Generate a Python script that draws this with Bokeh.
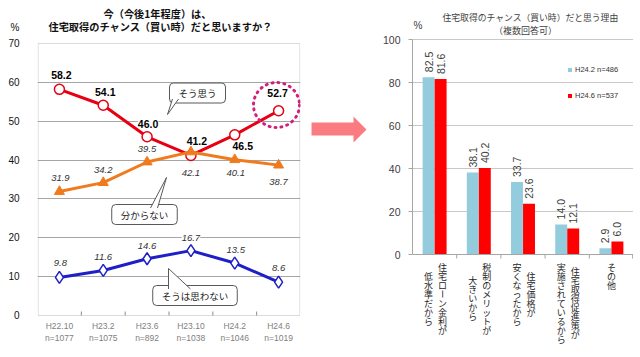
import math
from bokeh.plotting import figure
from bokeh.models import (FactorRange, Range1d, ColumnDataSource, LabelSet, Label, Legend,
                          LegendItem, FixedTicker, BoxAnnotation, Span)
from bokeh.layouts import row
from bokeh.embed import file_html
from bokeh.resources import INLINE
from bokeh.transform import dodge
from bokeh.core.properties import value

# ---------------- data: left chart ----------------
periods = ["H22.10", "H23.2", "H23.6", "H23.10", "H24.2", "H24.6"]
sample_n = ["n=1077", "n=1075", "n=892", "n=1038", "n=1046", "n=1019"]
yes_vals = [58.2, 54.1, 46.0, 41.2, 46.5, 52.7]        # そう思う
unknown_vals = [31.9, 34.2, 39.5, 42.1, 40.1, 38.7]    # 分からない
no_vals = [9.8, 11.6, 14.6, 16.7, 13.5, 8.6]           # そうは思わない
series_names = ["そう思う", "分からない", "そうは思わない"]
left_title = ["今（今後1年程度）は、", "住宅取得のチャンス（買い時）だと思いますか？"]
left_yticks = [0, 10, 20, 30, 40, 50, 60, 70]
unit_label = "%"

# ---------------- data: right chart ----------------
reasons = [["住宅ローン金利が", "低水準だから"],
           ["税制のメリットが", "大きいから"],
           ["住宅価格が", "安くなったから"],
           ["住宅取得促進策が", "実施されているから"],
           ["その他"]]
h242_vals = [82.5, 38.1, 33.7, 14.0, 2.9]
h246_vals = [81.6, 40.2, 23.6, 12.1, 6.0]
legend_labels = ["H24.2 n=486", "H24.6 n=537"]
right_title = ["住宅取得のチャンス（買い時）だと思う理由", "（複数回答可）"]
right_yticks = [0, 20, 40, 60, 80, 100]

# ---------------- styles ----------------
JP = "Noto Sans CJK JP"
LAT = "Liberation Sans"
RED = "#E60012"
ORANGE = "#EF7B1E"
BLUE = "#1F1FC8"
LBLUE = "#93CDDD"
BRED = "#FF0000"
PINK = "#FA7C80"
MAG = "#D21F7C"
AXIS_GRAY = "#A6A6A6"
H = 355

# ---------------- layout geometry (pixels) ----------------
L_W, L_FL, L_FR = 305, 37, 300          # left canvas width, frame left/right
L_Y0, L_YTOP = 315, 43                  # pixel rows of 0 and of the top tick
A_W = 67                                # arrow canvas width
R_W, R_FL, R_FR = 261, 40, 261          # right canvas width, frame left/right (canvas px)
R_Y0, R_YTOP = 254, 39
R_X0 = L_W + A_W                        # right canvas left on the page

l_ppy = (L_Y0 - L_YTOP) / left_yticks[-1]
l_ppx = (L_FR - L_FL) / len(periods)
r_ppy = (R_Y0 - R_YTOP) / right_yticks[-1]
r_ppx = (R_FR - R_FL) / len(reasons)


def lx(px):
    return (px - L_FL) / l_ppx


def ly(py):
    return (L_Y0 - py) / l_ppy


def rx(px):
    return (px - R_X0 - R_FL) / r_ppx


def ry(py):
    return (R_Y0 - py) / r_ppy


# label offsets (pixels) -- layout only
yes_off = [(2, 14), (2, 13), (1, 13), (6, 14), (8, -11), (-1, 18)]
unk_off = [(1, 14), (0, 13), (0, 13), (0, -21), (1, -13), (0, -17)]
no_off = [(1, 14), (0, 13), (0, 13), (0, 13), (1, 13), (0, 14)]

# ================= left figure =================
p1 = figure(width=L_W, height=H, x_range=FactorRange(*periods),
            y_range=Range1d(ly(H), ly(0)),
            output_backend="svg", toolbar_location=None,
            min_border_left=L_FL, min_border_right=L_W - L_FR, min_border_top=0,
            min_border_bottom=0)
p1.outline_line_color = None
p1.xaxis.visible = False
p1.xgrid.grid_line_color = None
p1.ygrid.grid_line_color = "#A6A6A6"
p1.ygrid.ticker = FixedTicker(ticks=left_yticks[1:-1])
unit_tick = 74
p1.yaxis.ticker = FixedTicker(ticks=left_yticks + [unit_tick])
p1.yaxis.major_label_overrides = {unit_tick: unit_label}
p1.yaxis.axis_line_color = None
p1.yaxis.major_tick_line_color = None
p1.yaxis.minor_tick_line_color = None
p1.yaxis.major_label_standoff = 12
p1.yaxis.major_label_text_font = LAT
p1.yaxis.major_label_text_font_size = "10px"
p1.yaxis.major_label_text_color = "#111111"

# plot-area border
p1.add_layout(BoxAnnotation(left=0.015, right=len(periods) - 0.015, bottom=0,
                            top=left_yticks[-1], fill_alpha=0, line_color="#8C8C8C",
                            line_width=1, level="underlay"))
# category boundary ticks on the bottom edge
l_bounds = list(range(1, len(periods)))
p1.segment(x0=l_bounds, y0=[0] * len(l_bounds), x1=l_bounds, y1=[4 / l_ppy] * len(l_bounds),
           line_color="#8C8C8C", line_width=1)

src = ColumnDataSource(dict(
    period=periods, n=sample_n, yes=yes_vals, unk=unknown_vals, no=no_vals,
    yes_t=[f"{v:.1f}" for v in yes_vals], unk_t=[f"{v:.1f}" for v in unknown_vals],
    no_t=[f"{v:.1f}" for v in no_vals],
    yes_xo=[o[0] for o in yes_off], yes_yo=[o[1] for o in yes_off],
    unk_xo=[o[0] for o in unk_off], unk_yo=[o[1] for o in unk_off],
    no_xo=[o[0] for o in no_off], no_yo=[o[1] for o in no_off],
))

# category labels under the plot area
for col, yo in [("period", -10), ("n", -22)]:
    p1.add_layout(LabelSet(x="period", y=0, text=col, source=src, y_offset=yo,
                           text_align="center", text_baseline="middle",
                           text_font=value(LAT), text_font_size="8.5px",
                           text_color="#808080"))

p1.line("period", "yes", source=src, line_color=RED, line_width=3)
p1.scatter("period", "yes", source=src, marker="circle", size=10, fill_color="white",
           line_color=RED, line_width=1.5)
p1.line("period", "unk", source=src, line_color=ORANGE, line_width=3)
p1.scatter("period", "unk", source=src, marker="triangle", size=10, fill_color=ORANGE,
           line_color=ORANGE)
p1.line("period", "no", source=src, line_color=BLUE, line_width=3)
p1.scatter("period", "no", source=src, marker="diamond", size=12, fill_color="white",
           line_color=BLUE, line_width=1.5)

for col, style, size, color in [("yes", "bold", "10.5px", "#000000"),
                                ("unk", "italic", "9.5px", "#333333"),
                                ("no", "italic", "9.5px", "#333333")]:
    p1.add_layout(LabelSet(x="period", y=col, text=col + "_t", source=src,
                           x_offset=col + "_xo", y_offset=col + "_yo",
                           text_align="center", text_baseline="middle",
                           text_font=value(LAT), text_font_size=size,
                           text_font_style=style, text_color=color,
                           background_fill_color="white"))

# callouts: text, box centre (px), tail base points (px), tail tip (px)
callouts = [
    (series_names[0], (197, 92.5), [(172, 98.5), (178, 98.5)], (167, 114)),
    (series_names[1], (144, 214), [(150, 207.5), (157, 207.5)], (166, 177)),
    (series_names[2], (194.5, 295), [(168, 288.5), (190, 288.5)], (168, 268)),
]
for txt, (cx, cy), base, tip in callouts:
    p1.add_layout(Label(x=lx(cx), y=ly(cy), text=txt, text_align="center",
                        text_baseline="middle", text_font=JP, text_font_size="9.5px",
                        text_color="#222222", background_fill_color="white",
                        border_line_color="#595959", border_line_width=1, border_radius=4,
                        padding=(9, 3)))
    bx = [lx(b[0]) for b in base]
    by = [ly(b[1]) for b in base]
    tx, ty = lx(tip[0]), ly(tip[1])
    p1.patch([bx[0], tx, bx[1]], [by[0], ty, by[1]], fill_color="white", line_color=None,
             level="overlay")
    p1.multi_line([[bx[0], tx], [tx, bx[1]]], [[by[0], ty], [ty, by[1]]],
                  line_color="#595959", line_width=1, level="overlay")

# dotted highlight circle around the latest value
p1.ellipse(x=lx(276), y=ly(104.5), width=46, height=45, width_units="screen",
           height_units="screen", fill_color=None, line_color=MAG, line_width=3,
           line_dash="1 5", line_cap="round")

# title
p1.add_layout(Label(x=lx(157), y=ly(13), text=left_title[0], text_align="center",
                    text_baseline="middle", text_font=JP, text_font_size="10.2px",
                    text_font_style="bold", text_color="#111111"))
p1.add_layout(Label(x=lx(160), y=ly(25.5), text=left_title[1], text_align="center",
                    text_baseline="middle", text_font=JP, text_font_size="10.2px",
                    text_font_style="bold", text_color="#111111"))

# ================= arrow figure =================
pa = figure(width=A_W, height=H, x_range=Range1d(0, A_W), y_range=Range1d(H, 0),
            output_backend="svg", toolbar_location=None, x_axis_type=None,
            y_axis_type=None, min_border=0)
pa.outline_line_color = None
pa.grid.grid_line_color = None
ax0 = L_W
pa.patch([311 - ax0, 353 - ax0, 353 - ax0, 366 - ax0, 353 - ax0, 353 - ax0, 311 - ax0],
         [122, 122, 116, 129, 142, 135, 135], fill_color=PINK, line_color=None)

# ================= right figure =================
cats = ["".join(r) for r in reasons]
p2 = figure(width=R_W, height=H, x_range=FactorRange(*cats),
            y_range=Range1d(ry(H), ry(0)),
            output_backend="svg", toolbar_location=None,
            min_border_left=R_FL, min_border_right=R_W - R_FR, min_border_top=0,
            min_border_bottom=0)
p2.outline_line_color = None
p2.xaxis.visible = False
p2.xgrid.grid_line_color = None
p2.ygrid.grid_line_color = "#C8C8C8"
p2.ygrid.ticker = FixedTicker(ticks=right_yticks[1:])
p2.yaxis.ticker = FixedTicker(ticks=right_yticks)
p2.yaxis.bounds = (right_yticks[0], right_yticks[-1])
p2.yaxis.axis_line_color = AXIS_GRAY
p2.yaxis.major_tick_line_color = AXIS_GRAY
p2.yaxis.major_tick_out = 4
p2.yaxis.major_tick_in = 0
p2.yaxis.minor_tick_line_color = None
p2.yaxis.major_label_standoff = 8
p2.yaxis.major_label_text_font = LAT
p2.yaxis.major_label_text_font_size = "10.5px"
p2.yaxis.major_label_text_color = "#404040"
p2.add_layout(Span(location=0, dimension="width", line_color=AXIS_GRAY, line_width=1))
r_bounds = [b for b in range(1, len(reasons))] + [len(reasons) - 0.02]
p2.segment(x0=r_bounds, y0=[0] * len(r_bounds), x1=r_bounds,
           y1=[-4 / r_ppy] * len(r_bounds), line_color=AXIS_GRAY, line_width=1)

src2 = ColumnDataSource(dict(cat=cats, a=h242_vals, b=h246_vals,
                             a_t=[f"{v:.1f}" for v in h242_vals],
                             b_t=[f"{v:.1f}" for v in h246_vals]))
r1 = p2.vbar(x=dodge("cat", -0.136, range=p2.x_range), top="a", width=0.27, source=src2,
             fill_color=LBLUE, line_color=None)
r2 = p2.vbar(x=dodge("cat", 0.136, range=p2.x_range), top="b", width=0.27, source=src2,
             fill_color=BRED, line_color=None)
for key, off in [("a", -0.136), ("b", 0.136)]:
    p2.add_layout(LabelSet(x=dodge("cat", off, range=p2.x_range), y=key, text=key + "_t",
                           source=src2, angle=math.pi / 2, text_align="left",
                           text_baseline="middle", y_offset=5, text_font=value(LAT),
                           text_font_size="10.5px", text_color="#404040"))

# vertical (tategaki) category labels, right column first; long-vowel marks turned upright
CH_TOP, CH_STEP = 8, 9
upright = dict(cat=[], ch=[], xo=[], yo=[])
turned = dict(cat=[], ch=[], xo=[], yo=[])
for cat, cols in zip(cats, reasons):
    maxlen = max(len(c) for c in cols)
    for j, col in enumerate(cols):
        xo = 0 if len(cols) == 1 else (8 if j == 0 else -6)
        start = (maxlen - len(col)) / 2
        for k, ch in enumerate(col):
            tgt = turned if ch == "ー" else upright
            tgt["cat"].append(cat)
            tgt["ch"].append(ch)
            tgt["xo"].append(xo)
            tgt["yo"].append(-(CH_TOP + (start + k + 0.5) * CH_STEP))
for data, ang in [(upright, 0), (turned, -math.pi / 2)]:
    p2.add_layout(LabelSet(x="cat", y=0, text="ch", source=ColumnDataSource(data),
                           x_offset="xo", y_offset="yo", angle=ang,
                           text_align="center", text_baseline="middle",
                           text_font=value(JP), text_font_size="9px",
                           text_color="#262626"))

legend = Legend(items=[LegendItem(label=legend_labels[0], renderers=[r1]),
                       LegendItem(label=legend_labels[1], renderers=[r2])],
                location=(567 - R_X0 - R_FL, H - 99.5), glyph_width=5, glyph_height=5,
                label_height=9, label_standoff=3, spacing=17, padding=0, margin=0,
                border_line_color=None, background_fill_alpha=0,
                label_text_font=LAT, label_text_font_size="7.5px",
                label_text_color="#333333")
p2.add_layout(legend)

p2.add_layout(Label(x=rx(530), y=ry(17), text=right_title[0], text_align="center",
                    text_baseline="middle", text_font=JP, text_font_size="8.8px",
                    text_color="#404040"))
p2.add_layout(Label(x=rx(525), y=ry(30), text=right_title[1], text_align="center",
                    text_baseline="middle", text_font=JP, text_font_size="9px",
                    text_color="#404040"))
p2.add_layout(Label(x=rx(413), y=ry(25), text=unit_label, text_align="left",
                    text_baseline="middle", text_font=LAT, text_font_size="10px",
                    text_color="#404040"))

layout = row(p1, pa, p2)
open("out.html", "w").write(file_html(layout, INLINE))
